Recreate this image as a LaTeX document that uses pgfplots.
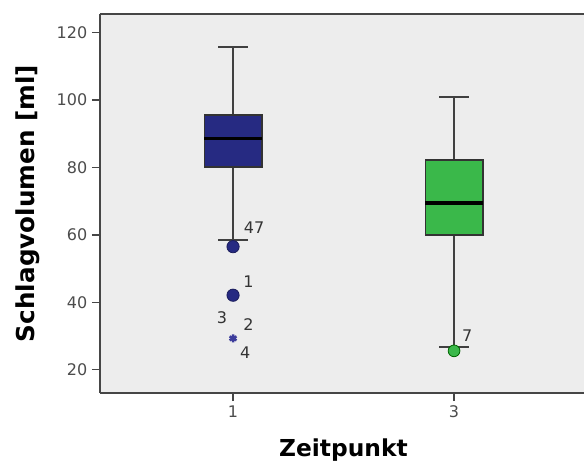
\documentclass[border=0pt]{standalone}
\usepackage{pgfplots}
\pgfplotsset{compat=1.18}
\usepgfplotslibrary{statistics}
\usepackage{fontspec}
\setmainfont{DejaVu Sans}

\definecolor{spssblue}{RGB}{38,42,130}
\definecolor{spssgreen}{RGB}{58,184,74}
\definecolor{panel}{RGB}{237,237,237}
\definecolor{frameline}{RGB}{70,70,70}
\definecolor{starblue}{RGB}{60,60,155}

\begin{document}
\begin{tikzpicture}
\begin{axis}[
  name=ax,
  scale only axis,
  width=363pt, height=284.25pt,
  xmin=-0.204, xmax=4.176,
  ymin=13.1, ymax=125.5,
  axis x line*=bottom, axis y line*=left,
  axis line style={-, frameline, line width=1.1pt},
  axis background/.style={fill=panel},
  xtick={1,3}, ytick={20,40,...,120},
  tick align=outside, major tick length=6pt,
  tick style={frameline, line width=1pt},
  ticklabel style={font=\fontsize{12}{13}\selectfont, text=black!70},
  /pgf/number format/assume math mode=true,
  xlabel={Zeitpunkt}, ylabel={Schlagvolumen [ml]},
  every axis x label/.style={at={(axis description cs:0.503,-0.15)}, anchor=center,
    font=\fontsize{17.5}{20}\selectfont\bfseries},
  every axis y label/.style={at={(axis description cs:-0.149,0.5)}, rotate=90, anchor=center,
    font=\fontsize{18.5}{20}\selectfont\bfseries},
  clip=false,
  boxplot/draw direction=y,
  boxplot/box extend=0.52,
  boxplot/whisker extend=0.27,
  boxplot/every whisker/.style={draw=black!75, line width=1.4pt},
  boxplot/every box/.style={draw=black!80, line width=1.2pt},
  boxplot/every median/.style={draw=black, line width=2.6pt},
]
  % top border of the panel
  \draw[frameline, line width=1.1pt] (rel axis cs:0,1) -- (rel axis cs:1,1);

  % Zeitpunkt 1 with its mild outliers
  \addplot+[boxplot prepared={
      draw position=1,
      lower whisker=58.5, lower quartile=80.2, median=88.6,
      upper quartile=95.5, upper whisker=115.6},
    fill=spssblue, draw=black!80,
    mark=*, mark size=4.6pt,
    mark options={draw=spssblue!70!black, fill=spssblue, solid, line width=0.6pt}]
    coordinates {(0,56.5) (0,42.1)};
  % Zeitpunkt 3 with its outlier
  \addplot+[boxplot prepared={
      draw position=3,
      lower whisker=26.8, lower quartile=59.9, median=69.5,
      upper quartile=82.2, upper whisker=100.8},
    fill=spssgreen, draw=black!80,
    mark=*, mark size=4.4pt,
    mark options={draw=green!40!black, fill=spssgreen, solid, line width=0.6pt}]
    coordinates {(0,25.6)};

  % extreme value
  \addplot[only marks, mark=asterisk, mark size=3pt, draw=starblue, line width=1.9pt]
    coordinates {(1,29.3)};

  % case numbers of the outliers
  \begin{scope}[every node/.style={font=\fontsize{12}{13}\selectfont, text=black!80}]
    \node at (axis cs:1.19,62.0) {47};
    \node at (axis cs:1.14,46.0) {1};
    \node at (axis cs:0.90,35.3) {3};
    \node at (axis cs:1.14,33.5) {2};
    \node at (axis cs:1.11,25.0) {4};
    \node at (axis cs:3.12,30.0) {7};
  \end{scope}
\end{axis}
\pgfresetboundingbox
\path[use as bounding box] ([xshift=-75pt,yshift=-57.75pt]ax.south west) rectangle ([yshift=10.5pt]ax.north east);
\end{tikzpicture}
\end{document}
